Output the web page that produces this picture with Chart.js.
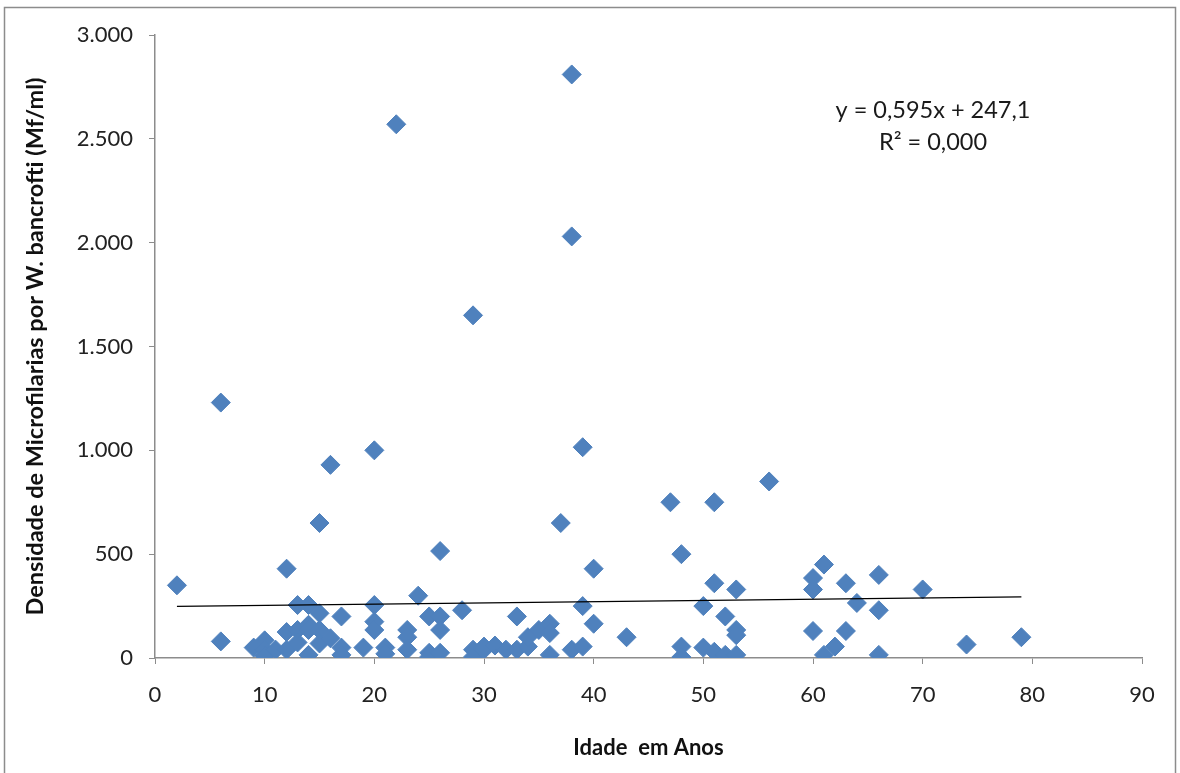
<!DOCTYPE html>
<html>
<head>
<meta charset="utf-8">
<script src="https://cdn.jsdelivr.net/npm/chart.js@4.4.0/dist/chart.umd.min.js"></script>
<style>
  html, body { margin: 0; padding: 0; background: #ffffff; }
  #wrap { width: 1180px; height: 773px; position: relative; }
</style>
</head>
<body>
<div id="wrap"><canvas id="c" width="1180" height="773"></canvas></div>
<script>
// Ages (years) and microfilaria density (Mf/ml)
const ages = [
  2, 6, 6, 9, 10, 10, 10, 11, 12, 12, 12,
  13, 13, 13, 14, 14, 14, 14, 15, 15, 15, 15,
  16, 16, 17, 17, 17, 19, 20, 20, 20, 20, 21, 21,
  22, 23, 23, 23, 24, 25, 25, 25, 26, 26, 26, 26,
  28, 29, 29, 29, 30, 30, 31, 32, 33, 33, 34, 34, 35,
  36, 36, 36, 37, 38, 38, 38, 39, 39, 39, 40, 40,
  43, 47, 48, 48, 48, 50, 50, 51, 51, 51, 52, 52,
  53, 53, 53, 53, 56, 60, 60, 60, 61, 61, 62, 63, 63,
  64, 66, 66, 66, 70, 74, 79
];
const densities = [
  350, 1230, 80, 50, 85, 40, 10, 40, 430, 125, 40,
  255, 135, 75, 255, 160, 135, 15, 650, 215, 135, 70,
  930, 95, 200, 50, 15, 50, 1000, 255, 175, 135, 50, 20,
  2570, 135, 100, 40, 300, 200, 25, 5, 515, 200, 135, 25,
  230, 1650, 40, 5, 40, 55, 60, 40, 200, 40, 55, 100, 135,
  165, 120, 15, 650, 2810, 2030, 40, 1015, 250, 55, 430, 165,
  100, 750, 500, 55, 5, 250, 50, 750, 360, 30, 200, 15,
  330, 135, 110, 15, 850, 385, 330, 130, 450, 15, 55, 360, 130,
  265, 400, 230, 15, 330, 65, 100
];
// Linear trend line endpoints (y = 0,595x + 247,1)
const trendX = [2, 79];
const trendY = [248.3, 294.1];
const yTickLabels = ['0', '500', '1.000', '1.500', '2.000', '2.500', '3.000'];
const xTickLabels = ['0', '10', '20', '30', '40', '50', '60', '70', '80', '90'];
const equationLines = ['y = 0,595x + 247,1', 'R\u00B2 = 0,000'];

const FONT = 'Lato, "Liberation Sans", sans-serif';
const points = ages.map((a, i) => ({ x: a, y: densities[i] }));
const trend = trendX.map((a, i) => ({ x: a, y: trendY[i] }));

const framePlugin = {
  id: 'frame',
  beforeDraw(chart) {
    const ctx = chart.ctx;
    ctx.save();
    ctx.fillStyle = '#ffffff';
    ctx.fillRect(0, 0, chart.width, chart.height);
    ctx.restore();
  },
  afterDraw(chart) {
    const ctx = chart.ctx;
    ctx.save();
    ctx.strokeStyle = '#8c8c8c';
    ctx.lineWidth = 1.5;
    ctx.strokeRect(4.5, 7.5, 1171, 800);
    ctx.fillStyle = '#1a1a1a';
    ctx.font = '23.5px ' + FONT;
    ctx.textAlign = 'center';
    ctx.textBaseline = 'middle';
    ctx.fillText(equationLines[0], 933, 110);
    ctx.fillText(equationLines[1], 933, 142);
    ctx.restore();
  }
};

new Chart(document.getElementById('c'), {
  type: 'scatter',
  data: {
    datasets: [
      {
        label: 'Densidade',
        data: points,
        pointStyle: 'rectRot',
        pointRadius: 9.5,
        pointHoverRadius: 9.5,
        backgroundColor: '#4F81BD',
        borderColor: '#4F81BD',
        borderWidth: 1,
        order: 2
      },
      {
        label: 'Linear',
        type: 'line',
        data: trend,
        borderColor: '#000000',
        borderWidth: 1.2,
        pointRadius: 0,
        fill: false,
        order: 1
      }
    ]
  },
  options: {
    responsive: false,
    animation: false,
    events: [],
    layout: { padding: { left: 20, right: 38, top: 35, bottom: 8 } },
    plugins: { legend: { display: false }, tooltip: { enabled: false } },
    scales: {
      x: {
        type: 'linear',
        min: 0, max: 90,
        ticks: {
          stepSize: 10,
          color: '#222222',
          font: { family: FONT, size: 22 },
          padding: 18,
          maxRotation: 0,
          callback: (v) => xTickLabels[Math.round(v / 10)] ?? ''
        },
        grid: { display: true, drawOnChartArea: false, drawTicks: true, tickLength: 6, color: '#8c8c8c' },
        border: { display: true, color: '#8c8c8c', width: 1.5 },
        title: {
          display: true,
          text: 'Idade  em Anos',
          color: '#111111',
          font: { family: FONT, size: 22, weight: 'bold' },
          padding: { top: 4, bottom: 4 }
        },
        afterFit(scale) { scale.height = 773 - 658 - 8; }
      },
      y: {
        type: 'linear',
        min: 0, max: 3000,
        ticks: {
          stepSize: 500,
          color: '#222222',
          font: { family: FONT, size: 22 },
          padding: 16,
          callback: (v) => yTickLabels[Math.round(v / 500)] ?? ''
        },
        grid: { display: true, drawOnChartArea: false, drawTicks: true, tickLength: 6, color: '#8c8c8c' },
        border: { display: true, color: '#8c8c8c', width: 1.5 },
        title: {
          display: true,
          text: 'Densidade de Microfilarias por W. bancrofti (Mf/ml)',
          color: '#111111',
          font: { family: FONT, size: 23.5, weight: 'bold' },
          padding: { top: 1, bottom: 4 }
        },
        afterFit(scale) { scale.width = 155 - 20; }
      }
    }
  },
  plugins: [framePlugin]
});
</script>
</body>
</html>
